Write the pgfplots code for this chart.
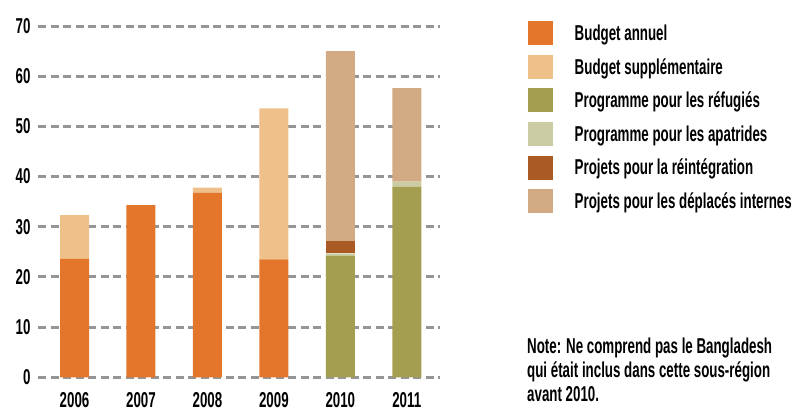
\documentclass[border=0pt]{standalone}
\usepackage{fontspec}
\setmainfont{Liberation Sans}[FakeStretch=0.62]
\usepackage{pgfplots}
\pgfplotsset{compat=1.18}
\definecolor{annuel}{HTML}{E3762A}
\definecolor{supp}{HTML}{EEC18A}
\definecolor{refug}{HTML}{A49F50}
\definecolor{apat}{HTML}{CBCCA3}
\definecolor{reint}{HTML}{A95A25}
\definecolor{idp}{HTML}{D2AB84}
\definecolor{gridgray}{HTML}{959595}
\begin{document}
\begin{tikzpicture}[x=1pt,y=1pt]
\useasboundingbox (0,0) rectangle (794,412);
\begin{axis}[
  at={(38pt,34.7pt)}, anchor=south west,
  scale only axis, width=402pt, height=351.3pt,
  xmin=-0.55, xmax=5.5, ymin=0, ymax=70,
  ybar stacked, bar width=29pt,
  axis line style={draw=none},
  ytick={0,10,...,70},
  xtick={0,1,2,3,4,5},
  xticklabels={2006,2007,2008,2009,2010,2011},
  major tick length=0pt,
  ymajorgrids,
  grid style={dash pattern=on 8pt off 4.5pt, line width=3pt, color=gridgray},
  font=\fontsize{21.5}{24}\selectfont\bfseries,
  /pgf/number format/assume math mode=true,
  yticklabel style={anchor=east, xshift=-4pt},
  xticklabel style={anchor=north, yshift=-12pt},
  legend style={at={(rel axis cs:1.219,1.014)}, anchor=north west, draw=none, fill=none,
    inner sep=0pt, row sep=9.6pt, column sep=20pt, cells={anchor=west},
    font=\fontsize{21.5}{24}\selectfont\bfseries},
  legend image code/.code={\fill[#1] (0pt,-12pt) rectangle (24.5pt,12pt);},
  legend cell align=left,
]
\addplot[fill=annuel, draw=none] coordinates {(0,23.6) (1,34.3) (2,36.8) (3,23.5) (4,0) (5,0)};
\addlegendentry{Budget annuel}
\addplot[fill=supp, draw=none] coordinates {(0,8.7) (1,0) (2,1.0) (3,30.1) (4,0) (5,0)};
\addlegendentry{Budget supplémentaire}
\addplot[fill=refug, draw=none] coordinates {(0,0) (1,0) (2,0) (3,0) (4,24.2) (5,38.0)};
\addlegendentry{Programme pour les réfugiés}
\addplot[fill=apat, draw=none] coordinates {(0,0) (1,0) (2,0) (3,0) (4,0.5) (5,1.0)};
\addlegendentry{Programme pour les apatrides}
\addplot[fill=reint, draw=none] coordinates {(0,0) (1,0) (2,0) (3,0) (4,2.5) (5,0)};
\addlegendentry{Projets pour la réintégration}
\addplot[fill=idp, draw=none] coordinates {(0,0) (1,0) (2,0) (3,0) (4,37.8) (5,18.6)};
\addlegendentry{Projets pour les déplacés internes}
\end{axis}
\node[anchor=north west, align=left, inner sep=0pt, font=\fontsize{21.5}{24}\selectfont\bfseries]
  at (527,74) {Note: Ne comprend pas le Bangladesh\\qui était inclus dans cette sous-région\\avant 2010.};
\end{tikzpicture}
\end{document}
